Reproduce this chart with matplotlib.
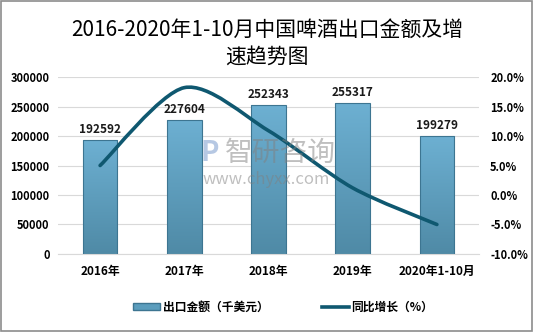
import numpy as np
import matplotlib.pyplot as plt
from matplotlib.path import Path
from matplotlib.patches import PathPatch, Rectangle
from matplotlib.lines import Line2D
from matplotlib.colors import LinearSegmentedColormap

plt.rcParams['font.family'] = ['Noto Sans CJK SC', 'DejaVu Sans']

# export value (thousand USD) and year-on-year growth (%)
years = ['2016年', '2017年', '2018年', '2019年', '2020年1-10月']
export_value = [192592, 227604, 252343, 255317, 199279]
growth_pct = [5.0, 18.2, 10.9, 1.2, -5.0]
left_ticks = [0, 50000, 100000, 150000, 200000, 250000, 300000]
right_ticks = [-10, -5, 0, 5, 10, 15, 20]

bar_face = '#5b9dbd'
bar_edge = '#3d7591'
line_col = '#0f5870'

fig = plt.figure(figsize=(5.34, 3.32), dpi=100)
fig.patches.append(Rectangle((0.002, 0.003), 0.995, 0.994, transform=fig.transFigure,
                             fill=False, edgecolor='#8c8c8c', linewidth=1.2))

ax = fig.add_axes([0.1086, 0.235, 0.7884, 0.533])
x = np.arange(len(years))

# bars with a vertical light-to-dark gradient
grad = np.linspace(0, 1, 256).reshape(-1, 1)
cmap = LinearSegmentedColormap.from_list('barfade', ['#4f8aa6', '#6db0d2'])
bars = ax.bar(x, export_value, width=0.41, color='none', edgecolor=bar_edge, linewidth=0.8, zorder=3)
for b in bars:
    bx, by = b.get_x(), b.get_y()
    im = ax.imshow(grad, cmap=cmap, aspect='auto', origin='lower',
                   extent=[bx, bx + b.get_width(), by, by + b.get_height()], zorder=2)
    im.set_clip_path(b)
for xi, v in zip(x, export_value):
    ax.text(xi, v + 7000, str(v), ha='center', va='bottom', fontsize=8.5,
            fontweight='bold', color='#1a1a1a', zorder=5)

ax.set_xlim(-0.5, len(years) - 0.5)
ax.set_ylim(0, 300000)
ax.set_yticks(left_ticks)
ax.set_yticklabels([str(t) for t in left_ticks], fontsize=8, fontweight='bold')
ax.set_xticks(x)
ax.set_xticklabels(years, fontsize=8.5, fontweight='bold')
ax.tick_params(length=0, pad=6)
ax.tick_params(axis='x', pad=8)
ax.grid(axis='y', color='#d9d9d9', linewidth=0.8, zorder=0)
for s in ['top', 'left', 'right']:
    ax.spines[s].set_visible(False)
ax.spines['bottom'].set_color('#d9d9d9')

ax2 = ax.twinx()
ax2.set_ylim(-10, 20)
ax2.set_yticks(right_ticks)
ax2.set_yticklabels(['%.1f%%' % t for t in right_ticks], fontsize=8, fontweight='bold')
ax2.tick_params(length=0, pad=8)
for s in ax2.spines.values():
    s.set_visible(False)

# smoothed growth line (Catmull-Rom as cubic Bezier segments)
pts = np.column_stack([x, growth_pct]).astype(float)
verts = [pts[0]]
codes = [Path.MOVETO]
for i in range(len(pts) - 1):
    p0 = pts[i - 1] if i > 0 else pts[i]
    p1, p2 = pts[i], pts[i + 1]
    p3 = pts[i + 2] if i + 2 < len(pts) else pts[i + 1]
    c1 = p1 + (p2 - p0) / 7.0
    c2 = p2 - (p3 - p1) / 7.0
    verts += [c1, c2, p2]
    codes += [Path.CURVE4] * 3
ax2.add_patch(PathPatch(Path(verts, codes), fill=False, edgecolor=line_col,
                        linewidth=2.6, capstyle='round', zorder=6))

fig.text(0.5, 0.91, '2016-2020年1-10月中国啤酒出口金额及增', ha='center', va='center',
         fontsize=15, fontweight='medium', color='black')
fig.text(0.5, 0.828, '速趋势图', ha='center', va='center', fontsize=15,
         fontweight='medium', color='black')

# watermark
fig.text(0.525, 0.539, '智研咨询', ha='center', va='center', fontsize=20,
         color='#808080', alpha=0.5, zorder=10)
fig.text(0.498, 0.458, 'www.chyxx.com', ha='center', va='center', fontsize=12,
         color='#808080', alpha=0.5, zorder=10)
fig.text(0.393, 0.539, 'P', ha='center', va='center', fontsize=20, fontweight='bold',
         color='#6f93c8', alpha=0.5, zorder=10)

handles = [Rectangle((0, 0), 1, 1, facecolor=bar_face, edgecolor=bar_edge),
           Line2D([0], [0], color=line_col, linewidth=2.6)]
fig.legend(handles, ['出口金额（千美元）', '同比增长（%）'], loc='center',
           bbox_to_anchor=(0.53, 0.075), ncol=2, frameon=False,
           prop={'size': 8.5, 'weight': 'bold'}, handlelength=2.3,
           handleheight=0.6, columnspacing=4.5, handletextpad=0.2)

fig.savefig('out.png', dpi=100)
